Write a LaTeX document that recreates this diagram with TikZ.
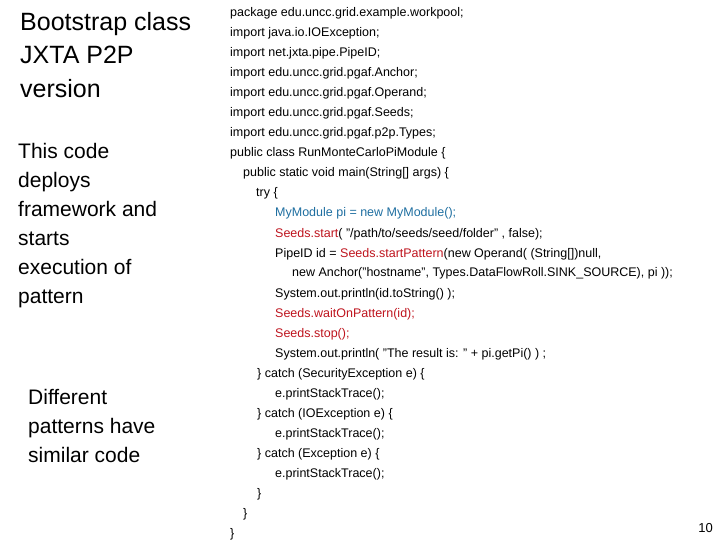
\documentclass[tikz,border=0pt]{standalone}
\usepackage{fontspec}
\setmainfont{Liberation Sans}
\definecolor{codeblue}{RGB}{30,110,160}
\definecolor{codered}{RGB}{190,20,30}
\begin{document}
\begin{tikzpicture}[x=1pt,y=-1pt,
  code/.style={anchor=west,inner sep=0pt,font=\fontsize{12.5}{14}\selectfont},
  big/.style={anchor=west,inner sep=0pt,align=left,font=\fontsize{25}{33.5}\selectfont},
  mid/.style={anchor=north west,inner sep=0pt,align=left,font=\fontsize{21}{29}\selectfont}]
\useasboundingbox (0,0) rectangle (720,540);
\node[big,anchor=north west] (title) at (20,12) {Bootstrap class\\JXTA P2P\\version};
\node[mid] (desc) at (18,143) {This code\\deploys\\framework and\\starts\\execution of\\pattern};
\node[mid] (diff) at (28,389) {Different\\patterns have\\similar code};
\node[code] (l1) at (230,13) {package edu.uncc.grid.example.workpool;};
\node[code] (l2) at (230,33) {import java.io.IOException;};
\node[code] (l3) at (230,53) {import net.jxta.pipe.PipeID;};
\node[code] (l4) at (230,73) {import edu.uncc.grid.pgaf.Anchor;};
\node[code] (l5) at (230,93) {import edu.uncc.grid.pgaf.Operand;};
\node[code] (l6) at (230,113) {import edu.uncc.grid.pgaf.Seeds;};
\node[code] (l7) at (230,133) {import edu.uncc.grid.pgaf.p2p.Types;};
\node[code] (l8) at (230,153) {public class RunMonteCarloPiModule \{};
\node[code] (l9) at (243,173) {public static void main(String[] args) \{};
\node[code] (l10) at (256,193) {try \{};
\node[code] (l11) at (275,213) {\color{codeblue}MyModule pi = new MyModule();};
\node[code] (l12) at (275,234) {\textcolor{codered}{Seeds.start}( "/path/to/seeds/seed/folder" , false);};
\node[code] (l13) at (275,254) {PipeID id = \textcolor{codered}{Seeds.startPattern}(new Operand( (String[])null,};
\node[code] (l14) at (292,273) {new Anchor("hostname", Types.DataFlowRoll.SINK\_SOURCE), pi ));};
\node[code] (l15) at (275,294) {System.out.println(id.toString() );};
\node[code] (l16) at (275,314) {\color{codered}Seeds.waitOnPattern(id);};
\node[code] (l17) at (275,334) {\color{codered}Seeds.stop();};
\node[code] (l18) at (275,354) {System.out.println( "The result is: " + pi.getPi() ) ;};
\node[code] (l19) at (257,374) {\} catch (SecurityException e) \{};
\node[code] (l20) at (275,394) {e.printStackTrace();};
\node[code] (l21) at (257,414) {\} catch (IOException e) \{};
\node[code] (l22) at (275,434) {e.printStackTrace();};
\node[code] (l23) at (257,454) {\} catch (Exception e) \{};
\node[code] (l24) at (275,474) {e.printStackTrace();};
\node[code] (l25) at (257,494) {\}};
\node[code] (l26) at (243,514) {\}};
\node[code] (l27) at (230,534) {\}};
\node[anchor=east,inner sep=0pt,font=\fontsize{13}{15}\selectfont] (pg) at (713,528) {10};
\end{tikzpicture}
\end{document}
